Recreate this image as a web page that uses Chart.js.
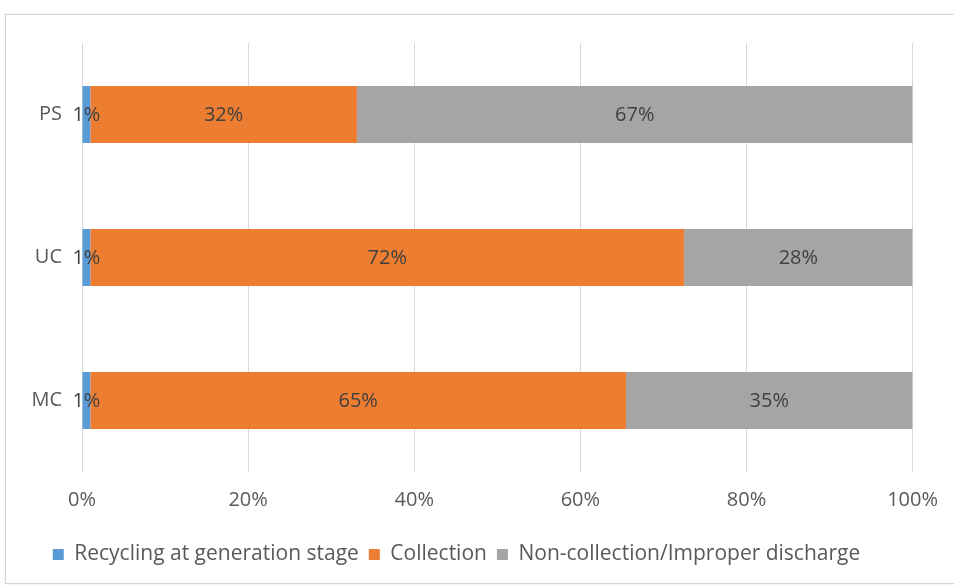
<!DOCTYPE html>
<html>
<head>
<meta charset="utf-8">
<script src="https://cdn.jsdelivr.net/npm/chart.js"></script>
<style>
  html, body { margin: 0; padding: 0; background: #fff; }
  #frame { position: absolute; left: 5px; top: 14px; width: 960px; height: 568px; border: 1px solid #d4d4d4; box-shadow: 0 0 2px #ddd; }
  #wrap { position: absolute; left: 0; top: 0; width: 954px; height: 586px; }
</style>
</head>
<body>
<div id="frame"></div>
<div id="wrap"><canvas id="c" width="954" height="586"></canvas></div>
<script>
const categories = ['PS', 'UC', 'MC'];
const recycling = [1.0, 1.0, 1.0];
const collection = [32.1, 71.5, 64.5];
const nonCollection = [66.9, 27.5, 34.5];
const xTicks = [0, 20, 40, 60, 80, 100];

const FONT = '"Open Sans", Lato, sans-serif';
const SIZE = 20;

// draws the % value in the middle of each bar segment
const barLabels = {
  id: 'barLabels',
  afterDatasetsDraw(chart) {
    const ctx = chart.ctx;
    ctx.save();
    ctx.font = SIZE + 'px ' + FONT;
    ctx.fillStyle = '#404040';
    ctx.textAlign = 'center';
    ctx.textBaseline = 'middle';
    chart.data.datasets.forEach((ds, i) => {
      chart.getDatasetMeta(i).data.forEach((bar, j) => {
        const mid = (bar.x + bar.base) / 2;
        ctx.fillText(Math.round(ds.data[j]) + '%', mid, bar.y + 1);
      });
    });
    ctx.restore();
  }
};

new Chart(document.getElementById('c'), {
  type: 'bar',
  data: {
    labels: categories,
    datasets: [
      { label: 'Recycling at generation stage', data: recycling, backgroundColor: '#5b9bd5' },
      { label: 'Collection', data: collection, backgroundColor: '#ed7d31' },
      { label: 'Non-collection/Improper discharge', data: nonCollection, backgroundColor: '#a5a5a5' }
    ]
  },
  options: {
    indexAxis: 'y',
    responsive: false,
    animation: false,
    layout: { padding: { top: 43, right: 41, left: 0, bottom: 11 } },
    datasets: { bar: { categoryPercentage: 1, barPercentage: 0.4 } },
    plugins: {
      legend: {
        position: 'bottom',
        labels: { font: { family: FONT, size: 21 }, color: '#595959', boxWidth: 11, boxHeight: 11, padding: 10 }
      },
      tooltip: { enabled: false }
    },
    scales: {
      x: {
        stacked: true,
        min: 0,
        max: 100,
        afterBuildTicks(axis) { axis.ticks = xTicks.map(v => ({ value: v })); },
        afterFit(axis) { axis.height = 62; },
        ticks: { callback: v => v + '%', font: { family: FONT, size: SIZE }, color: '#595959', padding: 16, maxRotation: 0 },
        grid: { color: '#d9d9d9', drawTicks: false },
        border: { display: false }
      },
      y: {
        stacked: true,
        afterFit(axis) { axis.width = 82; },
        ticks: { font: { family: FONT, size: SIZE }, color: '#595959', padding: 12 },
        grid: { display: false },
        border: { display: false }
      }
    }
  },
  plugins: [barLabels]
});
</script>
</body>
</html>
